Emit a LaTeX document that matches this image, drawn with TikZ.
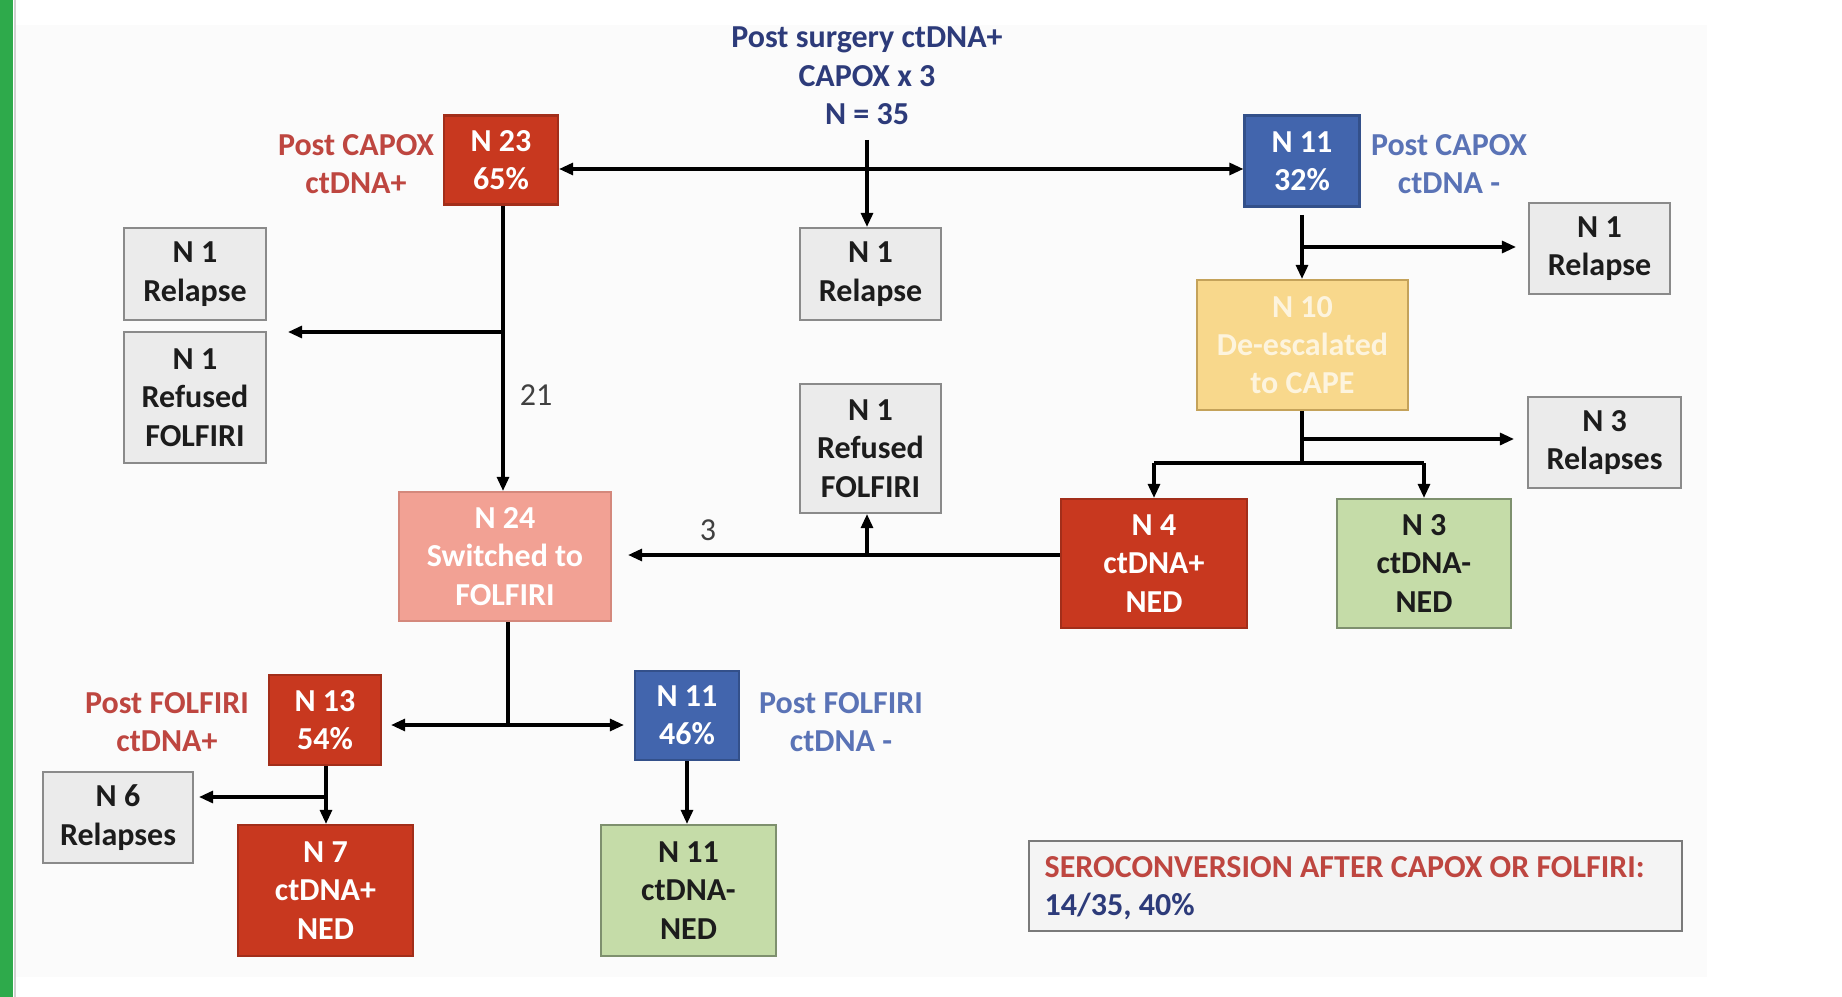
\documentclass[tikz,border=0pt]{standalone}
\usepackage{fontspec}
\setmainfont{Carlito}
\usetikzlibrary{arrows.meta}

\definecolor{slidebg}{HTML}{FBFBFB}
\definecolor{barGreen}{HTML}{2EAA4B}
\definecolor{redFill}{HTML}{C8381F}
\definecolor{redLine}{HTML}{A22E1A}
\definecolor{blueFill}{HTML}{4265AD}
\definecolor{blueLine}{HTML}{33508A}
\definecolor{salmonFill}{HTML}{F2A194}
\definecolor{salmonLine}{HTML}{D4887C}
\definecolor{yellowFill}{HTML}{F8D88C}
\definecolor{yellowLine}{HTML}{C4A25A}
\definecolor{yellowText}{HTML}{FDF4DE}
\definecolor{greenFill}{HTML}{C5DCA8}
\definecolor{greenLine}{HTML}{7E906E}
\definecolor{grayFill}{HTML}{EBEBEB}
\definecolor{grayLine}{HTML}{8A8A8A}
\definecolor{noteFill}{HTML}{F4F4F4}
\definecolor{noteLine}{HTML}{7A7A7A}
\definecolor{navyText}{HTML}{2D3B7A}
\definecolor{redText}{HTML}{BE4640}
\definecolor{blueText}{HTML}{5A73B6}
\definecolor{numText}{HTML}{404040}
\definecolor{darkText}{HTML}{1C1C1C}

\newcommand\dgfont{\fontsize{9.1}{10.9}\selectfont\bfseries}

\begin{document}
\begin{tikzpicture}[x=0.01cm, y=-0.01cm,
  sz/.style n args={2}{minimum width=#1*0.01cm, minimum height=#2*0.01cm},
  box/.style={draw, line width=0.6pt, inner sep=0pt, align=center, font=\dgfont},
  redbox/.style={box, fill=redFill, draw=redLine, text=white},
  bluebox/.style={box, fill=blueFill, draw=blueLine, text=white},
  salmonbox/.style={box, fill=salmonFill, draw=salmonLine, text=white},
  yellowbox/.style={box, fill=yellowFill, draw=yellowLine, text=yellowText},
  greenbox/.style={box, fill=greenFill, draw=greenLine, text=darkText},
  graybox/.style={box, fill=grayFill, draw=grayLine, text=darkText},
  sidelabel/.style={align=center, inner sep=0pt, font=\dgfont},
  numlabel/.style={inner sep=0pt, text=numText, font=\fontsize{9.1}{10.9}\selectfont},
  link/.style={line width=0.9pt, draw=black},
  arr/.style={link, -{Triangle[length=4pt, width=3.4pt]}},
  darr/.style={link, {Triangle[length=4pt, width=3.4pt]}-{Triangle[length=4pt, width=3.4pt]}}
]
\useasboundingbox (0,0) rectangle (1842,997);

% page background, slide area and side bar
\fill[white] (0,0) rectangle (1842,997);
\fill[slidebg] (15,25) rectangle (1707,977);
\fill[barGreen] (0,0) rectangle (13,997);
\draw[black!18, line width=0.5pt] (15,0) -- (15,997);

% heading
\node[sidelabel, text=navyText] (title) at (867,76) {Post surgery ctDNA+\\CAPOX x 3\\N = 35};

% first level after CAPOX
\node[redbox, sz={114}{89}] (n23) at (501,160) {N 23\\65\%};
\node[sidelabel, text=redText] (l23) at (356,164) {Post CAPOX\\ctDNA+};
\node[bluebox, sz={115}{91}] (n11a) at (1302,161) {N 11\\32\%};
\node[sidelabel, text=blueText] (l11a) at (1449,164) {Post CAPOX\\ctDNA -};

\node[graybox, sz={141}{92}] (r1c) at (870.5,274) {N 1\\Relapse};
\node[graybox, sz={142}{92}] (r1l) at (195,274) {N 1\\Relapse};
\node[graybox, sz={142}{131}] (refl) at (195,397.5) {N 1\\Refused\\FOLFIRI};
\node[graybox, sz={141}{129}] (refc) at (870.5,448.5) {N 1\\Refused\\FOLFIRI};
\node[graybox, sz={141}{91}] (r1r) at (1599.5,248.5) {N 1\\Relapse};

\node[salmonbox, sz={212}{129}] (n24) at (505,556.5) {N 24\\Switched to\\FOLFIRI};
\node[yellowbox, sz={211}{130}] (n10) at (1302.5,345) {N 10\\De-escalated\\to CAPE};
\node[graybox, sz={153}{91}] (r3) at (1604.5,442.5) {N 3\\Relapses};
\node[redbox, sz={186}{129}] (n4) at (1154,563.5) {N 4\\ctDNA+\\NED};
\node[greenbox, sz={174}{129}] (n3) at (1424,563.5) {N 3\\ctDNA-\\NED};

% after FOLFIRI
\node[redbox, sz={112}{90}] (n13) at (325,720) {N 13\\54\%};
\node[sidelabel, text=redText] (l13) at (167,722) {Post FOLFIRI\\ctDNA+};
\node[bluebox, sz={104}{89}] (n11b) at (687,715.5) {N 11\\46\%};
\node[sidelabel, text=blueText] (l11b) at (841,722) {Post FOLFIRI\\ctDNA -};
\node[graybox, sz={150}{91}] (n6) at (118,817.5) {N 6\\Relapses};
\node[redbox, sz={175}{131}] (n7) at (325.5,890.5) {N 7\\ctDNA+\\NED};
\node[greenbox, sz={175}{131}] (n11c) at (688.5,890.5) {N 11\\ctDNA-\\NED};

% summary note
\node[box, fill=noteFill, draw=noteLine, sz={653}{90}] (note) at (1355.5,886) {};
\node[anchor=west, align=left, inner sep=0pt, font=\dgfont] (notetext) at (1044,888)
  {\textcolor{redText}{SEROCONVERSION AFTER CAPOX OR FOLFIRI:}\\\textcolor{navyText}{14/35, 40\%}};

% helper points for branches
\coordinate (ts) at (867,140);
\coordinate (hy) at (867,169);
\coordinate (b23) at (503,332);
\coordinate (b23end) at (288,332);
\coordinate (y3) at (867,555);
\coordinate (b11) at (1302,247);
\coordinate (b11end) at (1516,247);
\coordinate (top11) at (1302,215);
\coordinate (b10) at (1302,439);
\coordinate (b10end) at (1514,439);
\coordinate (fork10) at (1302,463);
\coordinate (fork24) at (508,725);
\coordinate (b13) at (326,797);
\coordinate (b13end) at (199,797);

% connectors
\draw[arr] (ts) -- (ts |- r1c.north);
\draw[darr] (n23.east |- hy) -- (n11a.west |- hy);
\draw[arr] (n23.south -| b23) -- (n24.north -| b23);
\draw[arr] (b23) -- (b23end);
\node[numlabel] (lab21) at (536,395) {21};

\draw[arr, shorten >=16pt*0.2845] (n4.west |- y3) -- (n24.east |- y3);
\draw[arr] (y3) -- (y3 |- refc.south);
\node[numlabel] (lab3) at (708,530) {3};

\draw[arr] (top11) -- (top11 |- n10.north);
\draw[arr] (b11) -- (b11end);
\draw[link] (fork10 |- n10.south) -- (fork10);
\draw[arr] (b10) -- (b10end);
\draw[link] (n4.north |- fork10) -- (n3.north |- fork10);
\draw[arr] (n4.north |- fork10) -- (n4.north);
\draw[arr] (n3.north |- fork10) -- (n3.north);

\draw[link] (n24.south -| fork24) -- (fork24);
\draw[arr, shorten >=9pt*0.2845] (fork24) -- (n13.east |- fork24);
\draw[arr, shorten >=10pt*0.2845] (fork24) -- (n11b.west |- fork24);

\draw[arr] (n13.south -| b13) -- (n7.north -| b13);
\draw[arr] (b13) -- (b13end);
\draw[arr] (n11b.south) -- (n11c.north -| n11b.south);
\end{tikzpicture}
\end{document}
